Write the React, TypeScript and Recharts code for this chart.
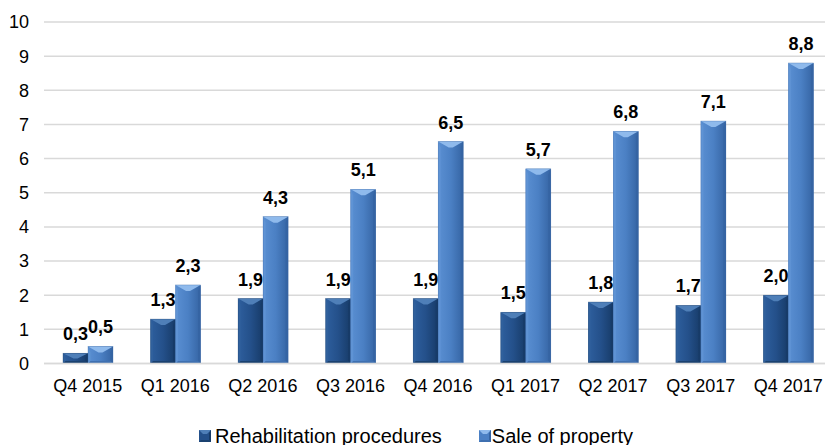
import React from "react";
import { BarChart, Bar, XAxis, YAxis, CartesianGrid, LabelList, Legend } from "recharts";

const categories = ["Q4 2015", "Q1 2016", "Q2 2016", "Q3 2016", "Q4 2016", "Q1 2017", "Q2 2017", "Q3 2017", "Q4 2017"];
const rehabilitation = [0.3, 1.3, 1.9, 1.9, 1.9, 1.5, 1.8, 1.7, 2.0];
const saleOfProperty = [0.5, 2.3, 4.3, 5.1, 6.5, 5.7, 6.8, 7.1, 8.8];
const yTicks = [0, 1, 2, 3, 4, 5, 6, 7, 8, 9, 10];
const seriesNames = ["Rehabilitation procedures", "Sale of property"];

const data = categories.map((c, i) => ({ name: c, rehab: rehabilitation[i], sale: saleOfProperty[i] }));

const FONT = '"Liberation Sans", Arial, sans-serif';

type Pal = { face: string; light: string; top: string; left: string; right: string; bottom: string; id: string };
const DARK: Pal = { face: "#24508a", light: "#2e5f9e", top: "#4f7fb8", left: "#30609c", right: "#173b68", bottom: "#1a416f", id: "gDark" };
const LIGHT: Pal = { face: "#4b80c4", light: "#5a8fd2", top: "#8fbaec", left: "#5f93d4", right: "#3564a3", bottom: "#3f70b0", id: "gLight" };

const fmt = (v: any) => Number(v).toFixed(1).replace(".", ",");

function Bevel({ x, y, width, height, pal }: any) {
  if (height == null || height <= 0) return null;
  const w = width, h = height;
  const b = Math.min(6, h / 2);
  const s = Math.min(2.5, w / 6);
  const cx = x + w / 2;
  return (
    <g>
      <rect x={x} y={y} width={w} height={h} fill={`url(#${pal.id})`} />
      <polygon points={`${x},${y} ${x + s},${y + b} ${x + s},${y + h - s} ${x},${y + h}`} fill={pal.left} />
      <polygon points={`${x + w},${y} ${x + w - s},${y + b} ${x + w - s},${y + h - s} ${x + w},${y + h}`} fill={pal.right} />
      <polygon points={`${x},${y + h} ${x + w},${y + h} ${x + w - s},${y + h - s} ${x + s},${y + h - s}`} fill={pal.bottom} />
      <polygon points={`${x},${y} ${x + w},${y} ${cx + 2},${y + b} ${cx - 2},${y + b}`} fill={pal.top} />
      <rect x={x} y={y} width={w} height={h} fill="none" stroke={pal.right} strokeOpacity={0.5} strokeWidth={0.6} />
    </g>
  );
}

function LegendIcon({ pal }: { pal: Pal }) {
  return (
    <svg width={12} height={12} style={{ display: "block" }}>
      <rect x={0} y={0} width={12} height={12} fill={pal.face} />
      <polygon points="0,0 12,0 8,4 4,4" fill={pal.top} />
      <polygon points="0,12 12,12 10,10 2,10" fill={pal.bottom} />
      <polygon points="12,0 12,12 10,10 10,3" fill={pal.right} />
    </svg>
  );
}

function CustomLegend() {
  const pals = [DARK, LIGHT];
  return (
    <div style={{ display: "flex", justifyContent: "center", alignItems: "center", paddingTop: 17, fontFamily: FONT, fontSize: 20, lineHeight: "20px", color: "#000" }}>
      {seriesNames.map((n, i) => (
        <div key={n} style={{ display: "flex", alignItems: "center", marginRight: i === 0 ? 37 : 0 }}>
          <LegendIcon pal={pals[i]} />
          <span style={{ marginLeft: i === 0 ? 4 : 1 }}>{n}</span>
        </div>
      ))}
    </div>
  );
}

export default function App() {
  return (
    <div style={{ position: "absolute", top: 0, left: 0, width: 825, height: 445, overflow: "hidden", background: "#fff" }}>
      <BarChart width={840} height={445} data={data} margin={{ top: 22, right: 8, bottom: 0, left: 0 }} barGap={0} barSize={25}>
        <defs>
          <linearGradient id="gDark" x1="0" y1="0" x2="1" y2="0">
            <stop offset="0" stopColor={DARK.light} />
            <stop offset="0.5" stopColor={DARK.face} />
            <stop offset="1" stopColor={DARK.right} />
          </linearGradient>
          <linearGradient id="gLight" x1="0" y1="0" x2="1" y2="0">
            <stop offset="0" stopColor={LIGHT.light} />
            <stop offset="0.5" stopColor={LIGHT.face} />
            <stop offset="1" stopColor={LIGHT.right} />
          </linearGradient>
        </defs>
        <CartesianGrid vertical={false} stroke="#d9d9d9" strokeWidth={1.5} />
        <XAxis dataKey="name" axisLine={{ stroke: "#d9d9d9", strokeWidth: 1.5 }} tickLine={false} tickSize={0} tickMargin={16} height={45} interval={0}
          tick={{ fontFamily: FONT, fontSize: 18, fill: "#000" }} />
        <YAxis domain={[0, 10]} ticks={yTicks} axisLine={false} tickLine={false} tickSize={0} tickMargin={15} width={44}
          tick={{ fontFamily: FONT, fontSize: 18, fill: "#000" }} />
        <Legend verticalAlign="bottom" height={36.5} content={() => <CustomLegend />} />
        <Bar dataKey="rehab" name={seriesNames[0]} fill={DARK.face} isAnimationActive={false} shape={(p: any) => <Bevel {...p} pal={DARK} />}>
          <LabelList dataKey="rehab" position="top" offset={13} formatter={fmt} style={{ fontFamily: FONT, fontSize: 18, fontWeight: "bold", fill: "#000" }} />
        </Bar>
        <Bar dataKey="sale" name={seriesNames[1]} fill={LIGHT.face} isAnimationActive={false} shape={(p: any) => <Bevel {...p} pal={LIGHT} />}>
          <LabelList dataKey="sale" position="top" offset={13} formatter={fmt} style={{ fontFamily: FONT, fontSize: 18, fontWeight: "bold", fill: "#000" }} />
        </Bar>
      </BarChart>
    </div>
  );
}
